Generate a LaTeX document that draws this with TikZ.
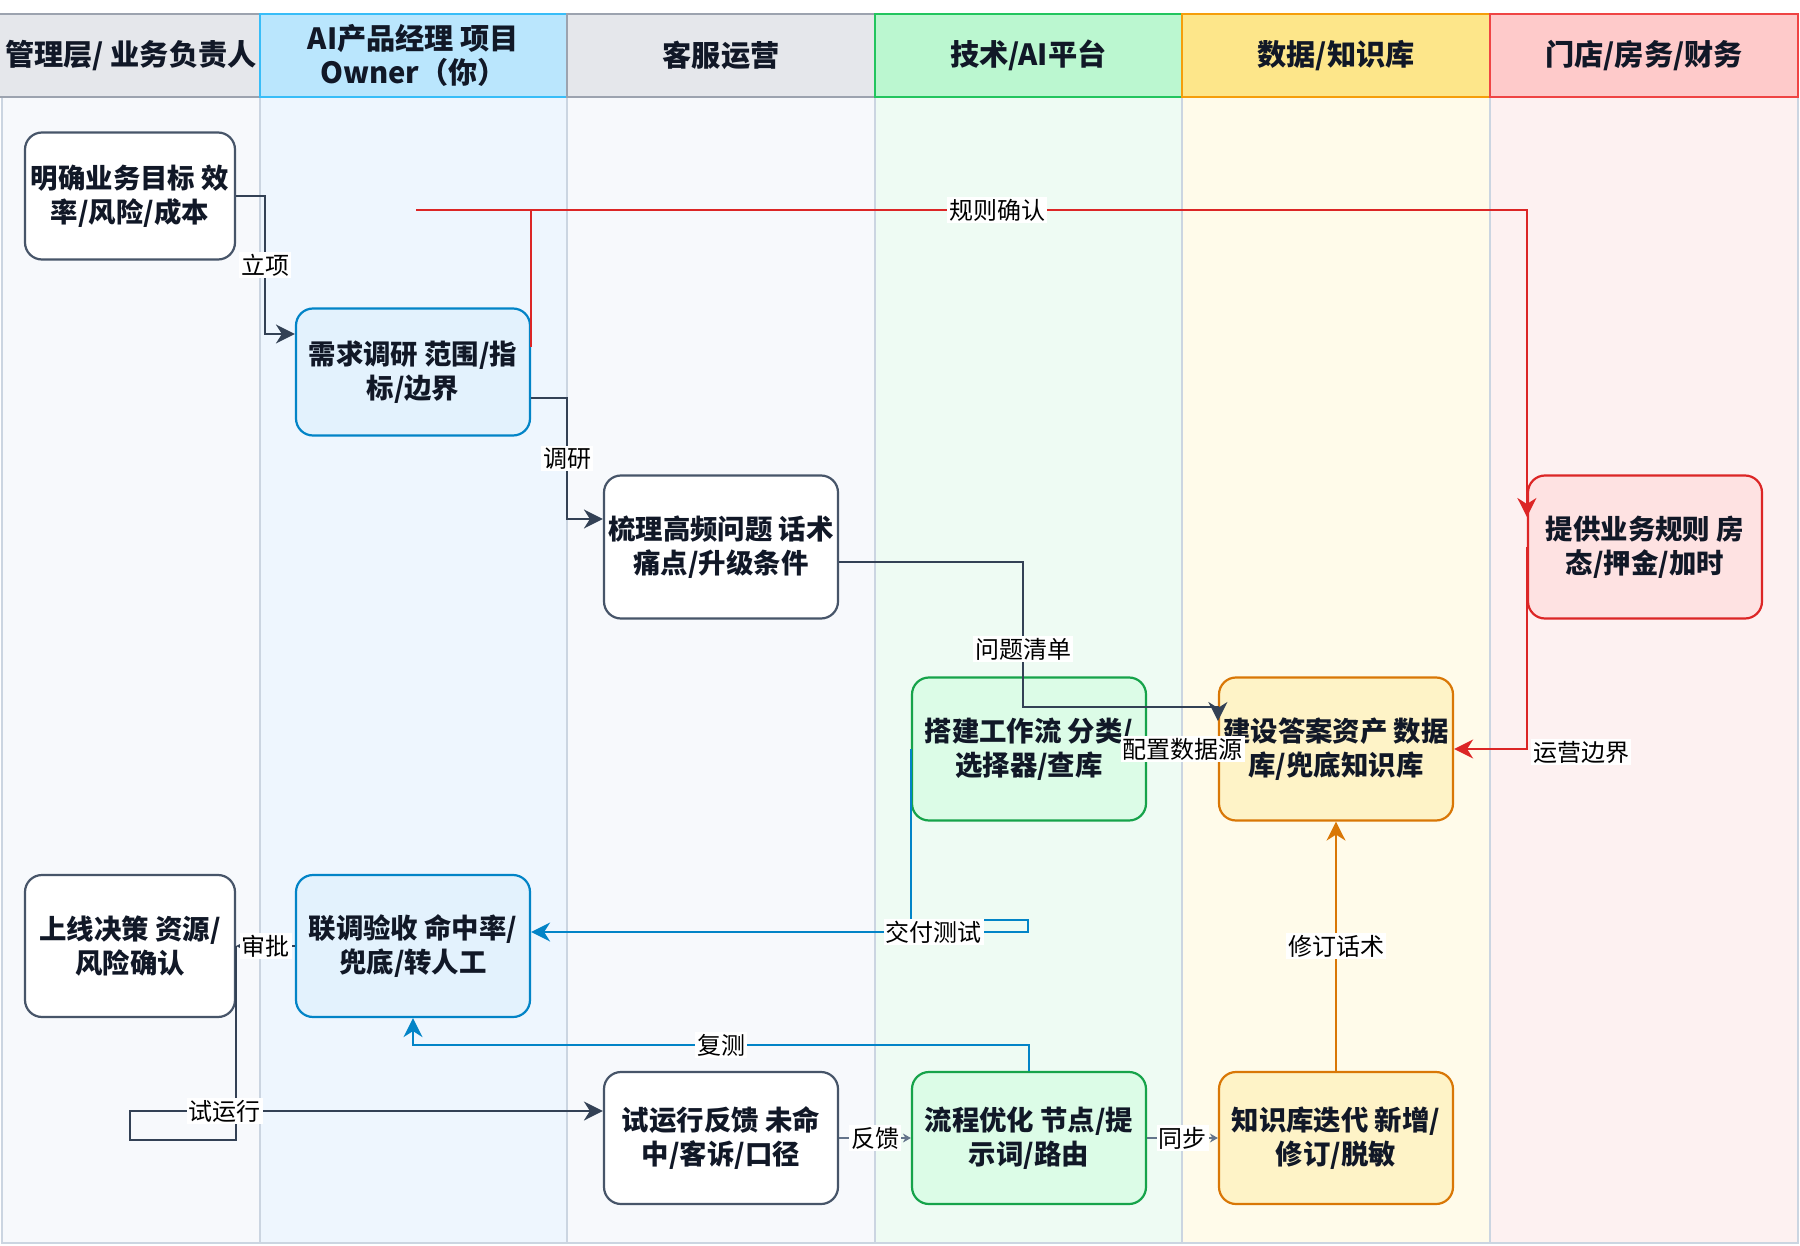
\documentclass[tikz,border=0pt]{standalone}
\usepackage{fontspec}
\setmainfont{Noto Sans CJK SC}
\usetikzlibrary{arrows.meta}
\definecolor{ink}{HTML}{111827}
\definecolor{slate}{HTML}{334155}
\definecolor{edgegray}{HTML}{64748B}
\definecolor{bordgray}{HTML}{475569}
\definecolor{lanegray}{HTML}{CBD5E1}
\definecolor{skyline}{HTML}{0284C7}
\definecolor{grnline}{HTML}{16A34A}
\definecolor{orgline}{HTML}{D97706}
\definecolor{redline}{HTML}{DC2626}
% lane and header fills
\definecolor{laneA}{HTML}{F7F9FC}
\definecolor{laneB}{HTML}{EEF6FE}
\definecolor{laneC}{HTML}{EEFBF3}
\definecolor{laneD}{HTML}{FFFBEA}
\definecolor{laneE}{HTML}{FDF1F1}
\definecolor{headgray}{HTML}{E5E7EB}
\definecolor{headgrayline}{HTML}{9CA3AF}
\definecolor{headsky}{HTML}{BAE6FD}
\definecolor{headskyline}{HTML}{38BDF8}
\definecolor{headgrn}{HTML}{BBF7D0}
\definecolor{headgrnline}{HTML}{22C55E}
\definecolor{headyel}{HTML}{FDE68A}
\definecolor{headyelline}{HTML}{F59E0B}
\definecolor{headred}{HTML}{FECACA}
\definecolor{headredline}{HTML}{EF4444}
\definecolor{boxsky}{HTML}{E3F2FD}
\definecolor{boxgrn}{HTML}{DCFCE7}
\definecolor{boxorg}{HTML}{FEF3C7}
\definecolor{boxred}{HTML}{FEE2E2}
\begin{document}
\begin{tikzpicture}[x=0.5pt,y=-0.5pt,
    head/.style={draw,line width=1.1pt,font=\bfseries\fontsize{14.6}{17}\selectfont,text=ink,align=center,minimum height=41.5pt},
    box/.style={draw,line width=1.1pt,rounded corners=8.5pt,align=center,inner sep=0pt,
      minimum width=117pt,minimum height=71.5pt,text=ink,font=\bfseries\fontsize{13.7}{17.2}\selectfont},
    wbox/.style={box,fill=white,draw=bordgray},
    bbox/.style={box,fill=boxsky,draw=skyline},
    gbox/.style={box,fill=boxgrn,draw=grnline},
    obox/.style={box,fill=boxorg,draw=orgline},
    rbox/.style={box,fill=boxred,draw=redline},
    lbl/.style={fill=white,inner sep=1pt,font=\fontsize{12}{14}\selectfont,text=black},
    dk/.style={draw=slate,line width=1pt,-{Stealth[length=9.5pt,width=9.5pt,inset=3pt]}},
    bl/.style={draw=skyline,line width=1pt,-{Stealth[length=9.5pt,width=9.5pt,inset=3pt]}},
    rd/.style={draw=redline,line width=1pt,-{Stealth[length=9.5pt,width=9.5pt,inset=3pt]}},
    og/.style={draw=orgline,line width=1pt,-{Stealth[length=9.5pt,width=9.5pt,inset=3pt]}},
    gy/.style={draw=edgegray,line width=1pt,-{Stealth[length=4pt,width=4.5pt]}}]
  \useasboundingbox (0,0) rectangle (1800,1246);
  % lanes
  \fill[laneA] (2,97) rectangle (260,1243);
  \fill[laneB] (260,97) rectangle (567,1243);
  \fill[laneA] (567,97) rectangle (875,1243);
  \fill[laneC] (875,97) rectangle (1182,1243);
  \fill[laneD] (1182,97) rectangle (1490,1243);
  \fill[laneE] (1490,97) rectangle (1798,1243);
  \foreach \lx in {260,567,875,1182,1490}
    \draw[lanegray,line width=0.8pt] (\lx,97) -- (\lx,1243);
  \draw[lanegray,line width=1pt] (2,97) rectangle (1798,1243);
  % headers
  \node[head,fill=headgray,draw=headgrayline,minimum width=129pt] (h1) at (131,55.5) {管理层/ 业务负责人};
  \node[head,fill=headsky,draw=headskyline,minimum width=153.5pt] (h2) at (413.5,55.5) {AI产品经理 项目\\Owner（你）};
  \node[head,fill=headgray,draw=headgrayline,minimum width=154pt] (h3) at (721,55.5) {客服运营};
  \node[head,fill=headgrn,draw=headgrnline,minimum width=153.5pt] (h4) at (1028.5,55.5) {技术/AI平台};
  \node[head,fill=headyel,draw=headyelline,minimum width=154pt] (h5) at (1336,55.5) {数据/知识库};
  \node[head,fill=headred,draw=headredline,minimum width=154pt] (h6) at (1644,55.5) {门店/房务/财务};
  % steps
  \node[wbox,minimum width=105pt,minimum height=63.5pt] (mb) at (130,196) {明确业务目标 效\\率/风险/成本};
  \node[bbox,minimum height=63.5pt] (xq) at (413,372) {需求调研 范围/指\\标/边界};
  \node[wbox] (sl) at (721,547) {梳理高频问题 话术\\痛点/升级条件};
  \node[rbox] (yw) at (1645,547) {提供业务规则 房\\态/押金/加时};
  \node[gbox] (dj) at (1029,749) {搭建工作流 分类/\\选择器/查库};
  \node[obox] (jd) at (1336,749) {建设答案资产 数据\\库/兜底知识库};
  \node[wbox,minimum width=105pt,minimum height=71pt] (sx) at (130,946) {上线决策 资源/\\风险确认};
  \node[bbox,minimum height=71pt] (ly) at (413,946) {联调验收 命中率/\\兜底/转人工};
  \node[wbox,minimum height=66pt] (sy) at (721,1138) {试运行反馈 未命\\中/客诉/口径};
  \node[gbox,minimum height=66pt] (lc) at (1029,1138) {流程优化 节点/提\\示词/路由};
  \node[obox,minimum height=66pt] (zs) at (1336,1138) {知识库迭代 新增/\\修订/脱敏};
  % flows
  \draw[dk] (mb.east) -| node[lbl,pos=0.75]{立项} (265,334) -- (xq.west |- 0,334);
  \draw[dk] (xq.east |- 0,398) -| node[lbl,pos=0.75]{调研} (567,519) -- (sl.west |- 0,519);
  \draw[dk] (sl.east |- 0,562) -| node[lbl,pos=0.8]{问题清单} (1023,707) -- (jd.north west |- 0,707) -- ++(0,14);
  \coordinate (rs) at (416,210);
  \draw[redline,line width=1pt] (rs) -- (xq.east |- rs) -- (xq.east |- 0,347);
  \draw[rd] (xq.east |- 0,347) |- node[lbl,pos=0.734]{规则确认} (yw.west |- rs) -- (yw.west |- 0,517);
  \draw[rd] (yw.west) -- (yw.west |- jd.east) -- (jd.east);
  \node[lbl] (yb) at (1581,752) {运营边界};
  \draw[dk] (dj.east) -- node[lbl]{配置数据源} (jd.west);
  \draw[bl] (dj.west) -- (dj.west |- 0,920) -- (1028,920) -- (1028,932) -- node[lbl,pos=0.19]{交付测试} (ly.east |- 0,932);
  \draw[bl] (lc.north) |- node[lbl,pos=0.75]{复测} (ly.south |- 0,1045) -- (ly.south);
  \draw[dk] (ly.west) -- node[lbl]{审批} (sx.east);
  \draw[dk] (sx.east) -- (sx.east |- 0,1140) -| (sx.south |- 0,1111) -- node[lbl,pos=0.2]{试运行} (sy.west |- 0,1111);
  \draw[gy] (sy.east) -- node[lbl]{反馈} (lc.west);
  \draw[gy] (lc.east) -- node[lbl]{同步} (zs.west);
  \draw[og] (zs.north) -- node[lbl]{修订话术} (jd.south);
\end{tikzpicture}
\end{document}
